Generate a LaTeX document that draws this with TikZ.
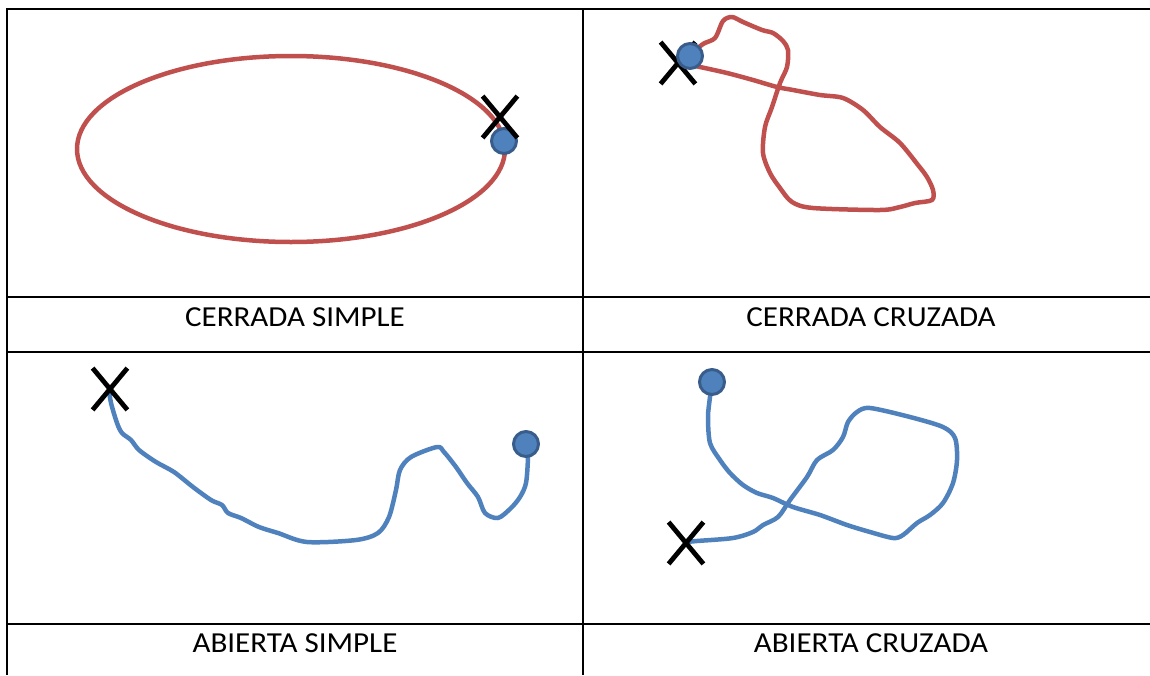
\documentclass[tikz,border=0pt]{standalone}
\usepackage{fontspec}
\setmainfont{Carlito}[FakeStretch=1.07]
\usetikzlibrary{shapes.misc}
\definecolor{trazorojo}{HTML}{C0504D}
\definecolor{trazoazul}{HTML}{4F81BD}
\definecolor{bordeazul}{HTML}{385D8A}

\begin{document}
\begin{tikzpicture}[x=1pt,y=-1pt,line cap=round,line join=round,
  linea/.style={line width=2pt,line cap=butt},
  rotulo/.style={font=\fontsize{29}{33}\selectfont,anchor=base,inner sep=0pt},
  rojo/.style={draw=trazorojo,line width=4.5pt},
  azul/.style={draw=trazoazul,line width=4.5pt},
  inicio/.style={circle,fill=trazoazul,draw=bordeazul,line width=3pt,minimum size=25pt,inner sep=0pt},
  fin/.style={cross out,draw=black,line width=4.8pt,line cap=butt,minimum width=30pt,minimum height=37pt,inner sep=0pt}]
  \useasboundingbox (0,0) rectangle (1150,675);

  % cuadricula
  \draw[linea] (7,9) -- (1150,9);
  \draw[linea] (7,297) -- (1150,297);
  \draw[linea] (7,352) -- (1150,352);
  \draw[linea] (7,624) -- (1150,624);
  \draw[linea] (7,8) -- (7,675);
  \draw[linea] (583,8) -- (583,675);

  % rotulos
  \node[rotulo] (cs) at (295,326) {CERRADA SIMPLE};
  \node[rotulo] (cc) at (871,326) {CERRADA CRUZADA};
  \node[rotulo] (as) at (295,652) {ABIERTA SIMPLE};
  \node[rotulo] (ac) at (871,652) {ABIERTA CRUZADA};

  % cerrada simple
  \draw[rojo] (291,149) ellipse [x radius=214,y radius=93];
  \node[inicio] (ini1) at (504,141) {};
  \node[fin] (fin1) at (500,117) {};

  % cerrada cruzada
  \draw[rojo] plot[smooth,tension=0.5] coordinates {
    (690,55) (703,44) (715,38) (723,21) (732,17) (743,22) (762,30) (773,33)
    (783,41) (788,50) (787,67) (780,83) (772,107) (765,127) (763,153) (770,173)
    (780,188) (792,202) (813,208) (880,210) (900,207) (915,203) (932,200)
    (933,190) (927,177) (918,165) (900,143) (880,127) (863,110) (843,98)
    (820,95) (793,90) (777,87) (753,80) (727,73) (700,67) (680,63)};
  \node[fin] (fin2) at (678,63) {};
  \node[inicio] (ini2) at (690,56) {};

  % abierta simple
  \draw[azul] plot[smooth,tension=0.5] coordinates {
    (109,390) (111,403) (117,423) (122,433) (131,440) (139,450) (156,462)
    (174,472) (193,487) (211,500) (222,505) (228,513) (241,518) (259,527)
    (278,533) (307,542) (356,540) (378,533) (389,517) (396,490) (400,470)
    (411,457) (437,447) (444,452) (456,467) (467,483) (478,497) (485,513)
    (498,518) (511,508) (520,497) (526,483) (528,457) (527,444)};
  \node[fin] (fin3) at (110,389) {};
  \node[inicio] (ini3) at (526,444) {};

  % abierta cruzada
  \draw[azul] plot[smooth,tension=0.5] coordinates {
    (712,382) (710,397) (708,417) (710,443) (720,460) (730,473) (743,485)
    (757,493) (773,498) (793,507) (820,515) (847,525) (870,532) (893,538)
    (903,535) (917,523) (930,515) (943,503) (953,483) (957,460) (955,438)
    (943,427) (910,417) (870,408) (857,412) (848,422) (843,437) (833,450)
    (817,460) (807,477) (790,500) (778,517) (763,525) (753,532) (733,538)
    (697,541) (686,542)};
  \node[inicio] (ini4) at (712,382) {};
  \node[fin] (fin4) at (686,543) {};
\end{tikzpicture}
\end{document}
